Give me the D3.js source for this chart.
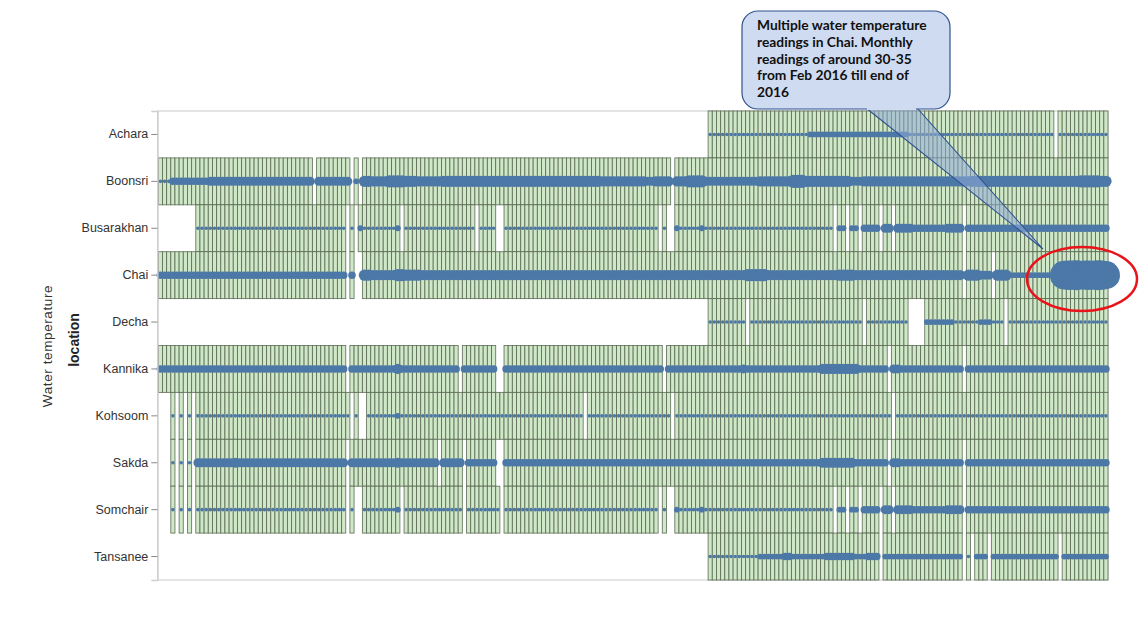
<!DOCTYPE html>
<html>
<head>
<meta charset="utf-8">
<script src="https://cdn.jsdelivr.net/npm/d3@7"></script>
<style>
  html, body { margin: 0; padding: 0; background: #fff; }
  svg { display: block; }
</style>
</head>
<body>
<svg id="chart" width="1141" height="619"></svg>
<script>
// ---- DATA ----
// months run from Jan 1998 to Dec 2016; segments are [firstMonth, lastMonth, readingsPerMonth]
// with month numbers counted from Jan 1998 (0) ; months not listed have no reading
const locations = ["Achara", "Boonsri", "Busarakhan", "Chai", "Decha", "Kannika", "Kohsoom", "Sakda", "Somchair", "Tansanee"];
const startYear = 1998, endYear = 2016;

const achara = [[132,155,1],[156,179,2],[180,214,1],[216,227,1]];
const boonsri = [[0,2,1],[3,11,3],[12,36,4],[38,45,4],[47,47,2],[49,50,6],[51,54,5],[55,58,7],[59,61,6],[62,67,5],[68,105,6],[106,116,5],[117,118,4],[119,122,5],[124,126,5],[127,130,7],[131,143,4],[144,151,5],[152,154,8],[155,165,6],[166,168,4],[169,194,5],[195,220,6],[221,225,7],[226,227,6]];
const busarakhan = [[9,44,1],[46,46,1],[48,48,2],[49,56,1],[57,57,2],[59,75,1],[77,80,1],[83,119,1],[121,121,1],[124,124,2],[125,129,1],[130,130,2],[131,161,1],[163,164,2],[166,167,2],[169,172,3],[174,175,4],[177,180,4],[181,188,3],[189,192,4],[194,227,3]];
const chai = [[0,44,3],[46,46,3],[49,50,6],[51,56,5],[57,58,7],[59,62,6],[63,90,5],[91,120,5],[121,140,5],[141,145,7],[146,162,5],[163,166,6],[167,192,5],[194,196,6],[197,199,4],[201,203,6],[204,216,2],
  [217,217,32],[218,218,34],[219,219,33],[220,220,35],[221,221,31],[222,222,33],[223,223,34],[224,224,32],[225,225,35],[226,226,33],[227,227,31]];
const decha = [[132,140,1],[142,168,1],[170,179,1],[184,190,2],[191,196,1],[197,199,2],[200,202,1],[204,227,1]];
const kannika = [[0,44,3],[46,56,3],[57,57,5],[58,71,3],[73,80,3],[83,120,3],[122,139,3],[140,140,4],[141,158,3],[159,167,5],[168,174,3],[176,177,4],[178,192,3],[194,227,3]];
const kohsoom = [[3,3,1],[5,5,1],[7,7,1],[9,45,1],[47,47,1],[50,56,1],[57,57,2],[58,101,1],[103,122,1],[124,175,1],[177,227,1]];
const sakda = [[3,3,1],[5,5,1],[7,7,1],[9,17,4],[18,18,5],[19,44,4],[46,56,4],[57,57,5],[58,66,4],[68,72,4],[74,80,3],[83,158,3],[159,166,5],[167,174,3],[176,177,4],[178,192,3],[194,227,3]];
const somchair = [[3,3,1],[5,5,1],[7,7,1],[9,44,1],[46,46,1],[49,56,1],[57,57,2],[59,72,1],[74,81,1],[83,119,1],[121,121,1],[124,124,2],[125,129,1],[130,130,2],[131,161,1],[163,164,2],[166,167,2],[169,172,3],[174,175,4],[177,180,4],[181,188,3],[189,192,4],[194,227,3]];
const tansanee = [[132,143,1],[144,148,2],[149,149,2],[150,151,3],[152,159,2],[160,166,3],[167,169,2],[170,172,3],[174,192,2],[194,194,1],[196,198,2],[200,215,2],[217,227,2]];

const yTitle = "location";
const measureTitle = "Water temperature";
const noteLines = ["Multiple water temperature", "readings in Chai. Monthly", "readings of around 30-35", "from Feb 2016 till end of", "2016"];

// ---- BUILD ----
const segmentsByLocation = {
  Achara: achara, Boonsri: boonsri, Busarakhan: busarakhan, Chai: chai, Decha: decha,
  Kannika: kannika, Kohsoom: kohsoom, Sakda: sakda, Somchair: somchair, Tansanee: tansanee
};
const months = d3.timeMonths(new Date(startYear, 0, 1), new Date(endYear + 1, 0, 1));
const fmt = d3.timeFormat("%Y-%m");
const monthKeys = months.map(fmt);

const cells = [];
locations.forEach(loc => {
  segmentsByLocation[loc].forEach(([a, b, c]) => {
    for (let m = a; m <= b; m++) cells.push({ loc, month: monthKeys[m], count: c });
  });
});

const svg = d3.select("#chart");
const plot = { left: 158.3, right: 1108, top: 111, bottom: 580 };

const x = d3.scaleBand().domain(monthKeys).range([plot.left, plot.right]).padding(0);
const y = d3.scaleBand().domain(locations).range([plot.top, plot.bottom]).padding(0);
const r = d3.scaleSqrt().domain([1, 35]).range([1.8, 15]);

// frame
svg.append("rect")
  .attr("x", plot.left - 0.5).attr("y", plot.top)
  .attr("width", plot.right - plot.left + 0.5).attr("height", plot.bottom - plot.top)
  .attr("fill", "none").attr("stroke", "#dcdcdc").attr("stroke-width", 1.5);

// cells
svg.append("g").selectAll("rect").data(cells).join("rect")
  .attr("x", d => x(d.month))
  .attr("y", d => y(d.loc))
  .attr("width", x.bandwidth())
  .attr("height", y.bandwidth())
  .attr("fill", "#cfe8c7")
  .attr("stroke", "#56644f")
  .attr("stroke-width", 0.9)
  .attr("stroke-opacity", 0.85);

// readings
svg.append("g").selectAll("circle").data(cells).join("circle")
  .attr("cx", d => x(d.month) + x.bandwidth() / 2)
  .attr("cy", d => y(d.loc) + y.bandwidth() / 2)
  .attr("r", d => r(d.count))
  .attr("fill", "#4c78a8");

// y axis
const yAxis = svg.append("g")
  .attr("transform", `translate(${plot.left - 1},0)`)
  .call(d3.axisLeft(y).tickSize(6).tickPadding(3));
yAxis.select(".domain").attr("stroke", "#cfcfcf").attr("stroke-width", 1.5);
yAxis.selectAll(".tick line").attr("stroke", "#888");
yAxis.selectAll("text")
  .attr("font-family", "'Liberation Sans', Arial, sans-serif")
  .attr("font-size", 12.5).attr("fill", "#333");

svg.append("text")
  .attr("transform", "translate(79,340) rotate(-90)")
  .attr("text-anchor", "middle")
  .attr("font-family", "'Liberation Sans', Arial, sans-serif")
  .attr("font-weight", "bold").attr("font-size", 14).attr("fill", "#222")
  .text(yTitle);

svg.append("text")
  .attr("transform", "translate(52,346) rotate(-90)")
  .attr("text-anchor", "middle")
  .attr("font-family", "'Liberation Sans', Arial, sans-serif")
  .attr("font-size", 13.5).attr("letter-spacing", 0.6).attr("fill", "#333")
  .text(measureTitle);

// annotation callout
const tip = [1043, 249];
svg.append("path")
  .attr("d", `M866,108 L${tip[0]},${tip[1]} L917,108 Z`)
  .attr("fill", "#8fa9d6").attr("fill-opacity", 0.55)
  .attr("stroke", "#2f528f").attr("stroke-width", 1.1);
svg.append("rect")
  .attr("x", 742).attr("y", 11).attr("width", 208).attr("height", 98)
  .attr("rx", 16).attr("ry", 16)
  .attr("fill", "#cfdbf0").attr("stroke", "#2f528f").attr("stroke-width", 1.2);
svg.append("rect")
  .attr("x", 867).attr("y", 106).attr("width", 49).attr("height", 4)
  .attr("fill", "#cfdbf0");

svg.append("g").selectAll("text").data(noteLines).join("text")
  .attr("x", 757)
  .attr("y", (d, i) => 30 + i * 16.8)
  .attr("font-family", "Lato, 'Open Sans', sans-serif")
  .attr("font-weight", "bold").attr("font-size", 13.8).attr("fill", "#111")
  .text(d => d);

// red highlight
svg.append("ellipse")
  .attr("cx", 1082).attr("cy", 279).attr("rx", 55).attr("ry", 32)
  .attr("fill", "none").attr("stroke", "#e8141a").attr("stroke-width", 2.5);
</script>
</body>
</html>
